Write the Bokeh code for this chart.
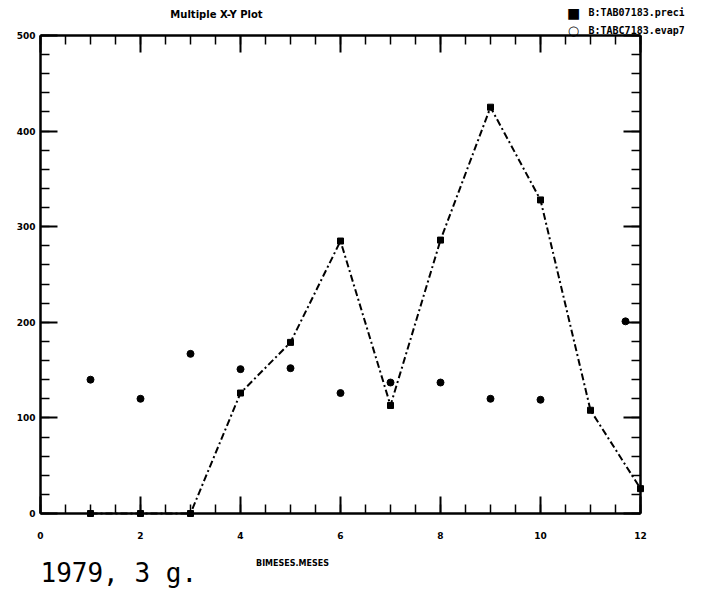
from bokeh.plotting import figure
from bokeh.models import Range1d, LinearAxis, Label, FixedTicker, CustomJSTickFormatter, ColumnDataSource
from bokeh.core.properties import value
from bokeh.embed import file_html
from bokeh.resources import INLINE

# ---- data ----
months = [1, 2, 3, 4, 5, 6, 7, 8, 9, 10, 11, 12]
precip = [0, 0, 0, 126, 179, 285, 113, 286, 425, 328, 108, 26]
evap_x = [1, 2, 3, 4, 5, 6, 7, 8, 9, 10, 11.7]
evap = [140, 120, 167, 151, 152, 126, 137, 137, 120, 119, 201]
x_ticks = [0, 2, 4, 6, 8, 10, 12]
y_ticks = [0, 100, 200, 300, 400, 500]
series_names = ["B:TAB07183.preci", "B:TABC7183.evap7"]
title_text = "Multiple X-Y Plot"
x_label = "BIMESES.MESES"
note_text = "1979, 3 g."

# ---- layout (screen pixels) ----
W, H = 686, 590
BL, BR, BT, BB = 2, 2, 2, 2          # min borders -> frame = canvas minus these
AX_L, AX_R, AX_T, AX_B = 40, 640, 35, 513   # where the data box should sit
XMIN, XMAX, YMIN, YMAX = 0, 12, 0, 500
sx = (AX_R - AX_L) / (XMAX - XMIN)
sy = (AX_B - AX_T) / (YMAX - YMIN)


def dx(px):
    return XMIN + (px - AX_L) / sx


def dy(py):
    return YMIN + (AX_B - py) / sy


p = figure(width=W, height=H, output_backend="svg", toolbar_location=None,
           x_range=Range1d(dx(BL), dx(W - BR)), y_range=Range1d(dy(H - BB), dy(BT)),
           min_border_left=BL, min_border_right=BR, min_border_top=BT, min_border_bottom=BB,
           x_axis_type=None, y_axis_type=None)
p.outline_line_color = None
p.background_fill_color = "white"
p.border_fill_color = "white"

xt = FixedTicker(ticks=x_ticks, minor_ticks=[i * 0.5 for i in range(25)])
yt = FixedTicker(ticks=y_ticks, minor_ticks=[i * 20 for i in range(26)])


def style(ax):
    ax.axis_line_width = 2.5
    ax.axis_line_color = "black"
    ax.major_tick_in = 17
    ax.major_tick_out = 0
    ax.minor_tick_in = 9
    ax.minor_tick_out = 0
    ax.major_tick_line_width = 2
    ax.minor_tick_line_width = 1.5
    ax.major_tick_line_color = "black"
    ax.minor_tick_line_color = "black"
    ax.formatter = CustomJSTickFormatter(code="return ''")
    ax.major_label_text_font_size = "0px"
    ax.major_label_standoff = 0


bottom = LinearAxis(ticker=xt, fixed_location=YMIN, bounds=(XMIN, XMAX))
style(bottom)
p.add_layout(bottom, "below")

top = LinearAxis(ticker=xt, fixed_location=YMAX, bounds=(XMIN, XMAX))
style(top)
p.add_layout(top, "above")

left = LinearAxis(ticker=yt, fixed_location=XMIN, bounds=(YMIN, YMAX))
style(left)
p.add_layout(left, "left")

right = LinearAxis(ticker=yt, fixed_location=XMAX, bounds=(YMIN, YMAX))
style(right)
p.add_layout(right, "right")

src_p = ColumnDataSource(dict(x=months, y=precip))
src_e = ColumnDataSource(dict(x=evap_x, y=evap))

p.line("x", "y", source=src_p, line_color="black", line_width=2, line_dash="7 3 2 3")
p.scatter("x", "y", source=src_p, marker="square", size=6, fill_color="black", line_color="black")
p.scatter("x", "y", source=src_e, marker="circle", size=7, fill_color="black", line_color="black")

tick_font = dict(text_font=value("DejaVu Sans"), text_font_style="bold", text_font_size="9px", text_color="black")

# x tick labels (at the tick values, pushed below the axis)
p.text(x=x_ticks, y=[YMIN] * len(x_ticks), text=[str(t) for t in x_ticks],
       y_offset=22, text_align="center", text_baseline="middle", **tick_font)

# y tick labels (at the tick values, pushed left of the axis)
p.text(x=[XMIN] * len(y_ticks), y=y_ticks, text=[str(t) for t in y_ticks],
       x_offset=-5, text_align="right", text_baseline="middle", **tick_font)

# title
p.add_layout(Label(x=dx(216), y=dy(14), text=title_text, text_align="center", text_baseline="middle",
                   text_font="DejaVu Sans", text_font_style="bold", text_font_size="10px", text_color="black"))

# legend
p.add_layout(Label(x=dx(573), y=dy(12), text="\u25a0", text_align="center", text_baseline="middle",
                   text_font="DejaVu Sans", text_font_size="14px", text_color="black"))
p.add_layout(Label(x=dx(573), y=dy(30), text="\u25cb", text_align="center", text_baseline="middle",
                   text_font="DejaVu Sans", text_font_size="13px", text_color="black", text_font_style="bold"))
p.add_layout(Label(x=dx(588), y=dy(12), text=series_names[0], text_align="left", text_baseline="middle",
                   text_font="DejaVu Sans Mono", text_font_style="bold", text_font_size="10px", text_color="black"))
p.add_layout(Label(x=dx(588), y=dy(30), text=series_names[1], text_align="left", text_baseline="middle",
                   text_font="DejaVu Sans Mono", text_font_style="bold", text_font_size="10px", text_color="black"))

# axis title
p.add_layout(Label(x=dx(292), y=dy(563), text=x_label, text_align="center", text_baseline="middle",
                   text_font="DejaVu Sans", text_font_style="bold", text_font_size="8px", text_color="black"))

# handwritten-like note
p.add_layout(Label(x=dx(40), y=dy(572), text=note_text, text_align="left", text_baseline="middle",
                   text_font="DejaVu Sans Mono", text_font_size="26px", text_color="black"))

open("out.html", "w").write(file_html(p, INLINE))
